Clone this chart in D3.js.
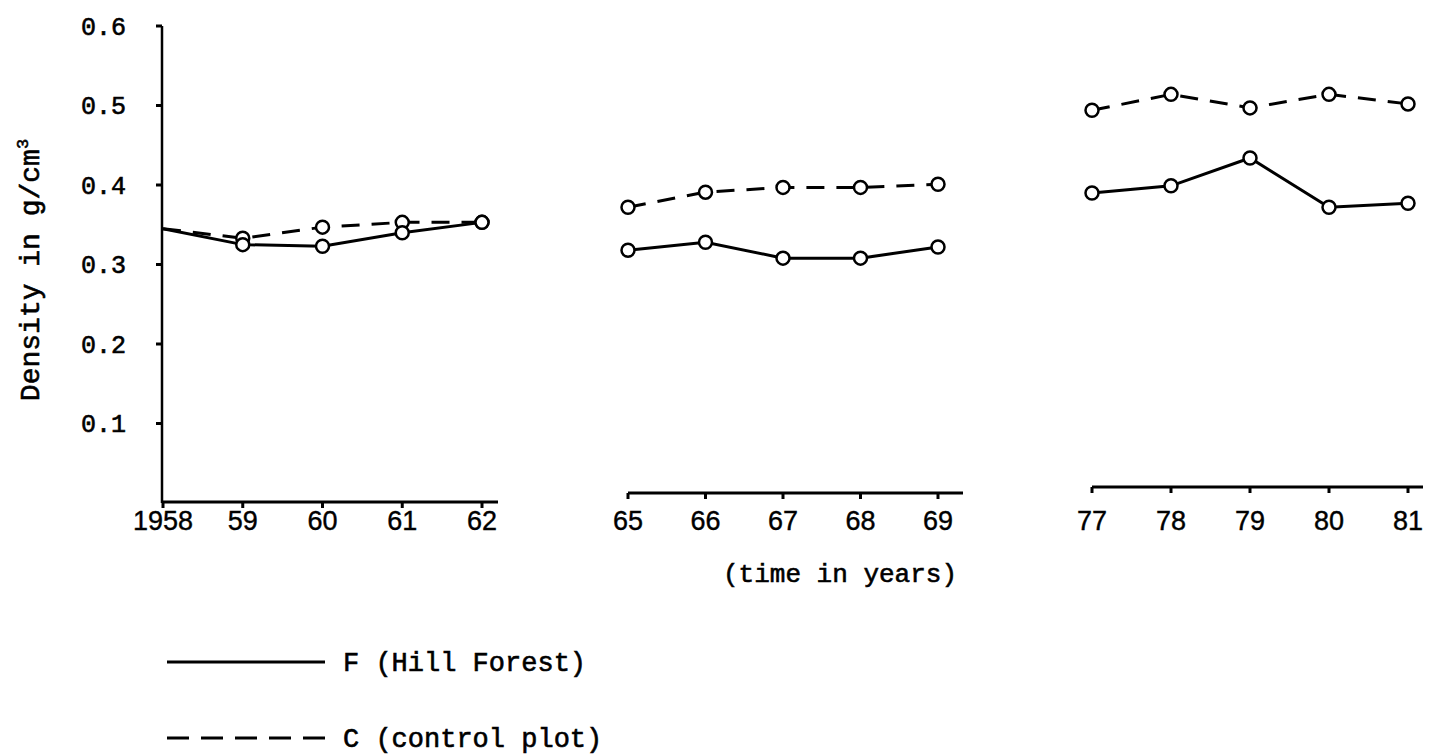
<!DOCTYPE html>
<html>
<head>
<meta charset="utf-8">
<script src="https://cdn.jsdelivr.net/npm/d3@7"></script>
<style>
  html, body { margin: 0; padding: 0; background: #fff; }
  svg { display: block; }
  .mono { font-family: "Liberation Mono", "DejaVu Sans Mono", monospace; stroke: #000; stroke-width: 0.6px; }
</style>
</head>
<body>
<div id="chart"></div>
<script>
// years on each of the three broken segments of the time axis
const years1 = [1958, 1959, 1960, 1961, 1962]
const years2 = [1965, 1966, 1967, 1968, 1969]
const years3 = [1977, 1978, 1979, 1980, 1981]
const yearLabels1 = ['1958', '59', '60', '61', '62']
const yearLabels2 = ['65', '66', '67', '68', '69']
const yearLabels3 = ['77', '78', '79', '80', '81']

// density in g/cm3, F = Hill Forest, C = control plot
const forest1 = [0.345, 0.325, 0.323, 0.340, 0.353]
const control1 = [0.345, 0.333, 0.347, 0.353, 0.353]
const forest2 = [0.318, 0.328, 0.308, 0.308, 0.322]
const control2 = [0.372, 0.391, 0.397, 0.397, 0.401]
const forest3 = [0.390, 0.399, 0.434, 0.372, 0.377]
const control3 = [0.494, 0.514, 0.497, 0.514, 0.502]

const yTicks = [0.1, 0.2, 0.3, 0.4, 0.5, 0.6]

const width = 1430
const height = 754

const svg = d3.select('#chart').append('svg')
    .attr('width', width)
    .attr('height', height)

const y = d3.scaleLinear().domain([0, 0.6]).range([503, 26])

const tickFont = '"Liberation Sans", Arial, sans-serif'

// y axis
const yAxis = svg.append('g').attr('transform', 'translate(162,0)')
yAxis.append('line')
    .attr('x1', 0).attr('x2', 0)
    .attr('y1', y(0.6)).attr('y2', y(0))
    .attr('stroke', '#000').attr('stroke-width', 2.5)
yAxis.selectAll('.tick')
    .data(yTicks)
    .enter()
    .append('line')
    .attr('x1', -6).attr('x2', 0)
    .attr('y1', d => y(d)).attr('y2', d => y(d))
    .attr('stroke', '#000').attr('stroke-width', 3)
yAxis.selectAll('.lab')
    .data(yTicks)
    .enter()
    .append('text')
    .attr('class', 'mono')
    .attr('x', -36)
    .attr('y', d => y(d))
    .attr('dy', '0.35em')
    .attr('text-anchor', 'end')
    .attr('font-size', 25)
    .attr('fill', '#000')
    .text(d => d.toFixed(1))

const yLabel = svg.append('text')
    .attr('class', 'mono')
    .attr('transform', 'translate(39,270) rotate(-90)')
    .attr('text-anchor', 'middle')
    .attr('font-size', 28)
    .attr('fill', '#000')
yLabel.append('tspan').text('Density in g/cm')
yLabel.append('tspan').attr('font-size', 17).attr('dy', -11).text('3')

// one panel per segment of the broken time axis
function panel(years, labels, forest, control, x0, x1, axisEnd, base, skipFirstMarker) {
    const x = d3.scaleLinear().domain([years[0], years[years.length - 1]]).range([x0, x1])
    const g = svg.append('g')

    g.append('line')
        .attr('x1', x0).attr('x2', axisEnd)
        .attr('y1', base).attr('y2', base)
        .attr('stroke', '#000').attr('stroke-width', 3)
    g.selectAll('.xt')
        .data(years)
        .enter()
        .append('line')
        .attr('x1', d => x(d)).attr('x2', d => x(d))
        .attr('y1', base).attr('y2', base + 6)
        .attr('stroke', '#000').attr('stroke-width', 3)
    g.selectAll('.xl')
        .data(years)
        .enter()
        .append('text')
        .attr('x', d => x(d))
        .attr('y', 521)
        .attr('dy', '0.35em')
        .attr('text-anchor', 'middle')
        .attr('font-family', tickFont)
        .attr('font-size', 27)
        .attr('fill', '#000')
        .attr('stroke', '#000')
        .attr('stroke-width', 0.4)
        .text((d, i) => labels[i])

    const line = d3.line()
        .x((d, i) => x(years[i]))
        .y(d => y(d))

    g.append('path')
        .datum(control)
        .attr('d', line)
        .attr('fill', 'none')
        .attr('stroke', '#000')
        .attr('stroke-width', 3)
        .attr('stroke-dasharray', '18,12')
    g.append('path')
        .datum(forest)
        .attr('d', line)
        .attr('fill', 'none')
        .attr('stroke', '#000')
        .attr('stroke-width', 3)

    const pts = []
    years.forEach((yr, i) => {
        if (skipFirstMarker && i === 0) return
        pts.push({ yr: yr, v: control[i] })
        pts.push({ yr: yr, v: forest[i] })
    })
    g.selectAll('circle')
        .data(pts)
        .enter()
        .append('circle')
        .attr('cx', d => x(d.yr))
        .attr('cy', d => y(d.v))
        .attr('r', 6.5)
        .attr('fill', '#fff')
        .attr('stroke', '#000')
        .attr('stroke-width', 2.5)
}

panel(years1, yearLabels1, forest1, control1, 163, 482, 498, 502, true)
panel(years2, yearLabels2, forest2, control2, 628, 938, 963, 493, false)
panel(years3, yearLabels3, forest3, control3, 1092, 1408, 1423, 487, false)

svg.append('text')
    .attr('class', 'mono')
    .attr('x', 840)
    .attr('y', 573)
    .attr('dy', '0.35em')
    .attr('text-anchor', 'middle')
    .attr('font-size', 26)
    .attr('fill', '#000')
    .text('(time in years)')

// legend
const legendItems = ['F (Hill Forest)', 'C (control plot)']
const legendDash = [null, '22,12']
const legend = svg.append('g')
legendItems.forEach((name, i) => {
    const ly = 662 + i * 76
    const l = legend.append('line')
        .attr('x1', 167).attr('x2', 325)
        .attr('y1', ly).attr('y2', ly)
        .attr('stroke', '#000').attr('stroke-width', 3)
    if (legendDash[i]) l.attr('stroke-dasharray', legendDash[i])
    legend.append('text')
        .attr('class', 'mono')
        .attr('x', 343)
        .attr('y', ly)
        .attr('dy', '0.35em')
        .attr('font-size', 27)
        .attr('fill', '#000')
        .text(name)
})
</script>
</body>
</html>
